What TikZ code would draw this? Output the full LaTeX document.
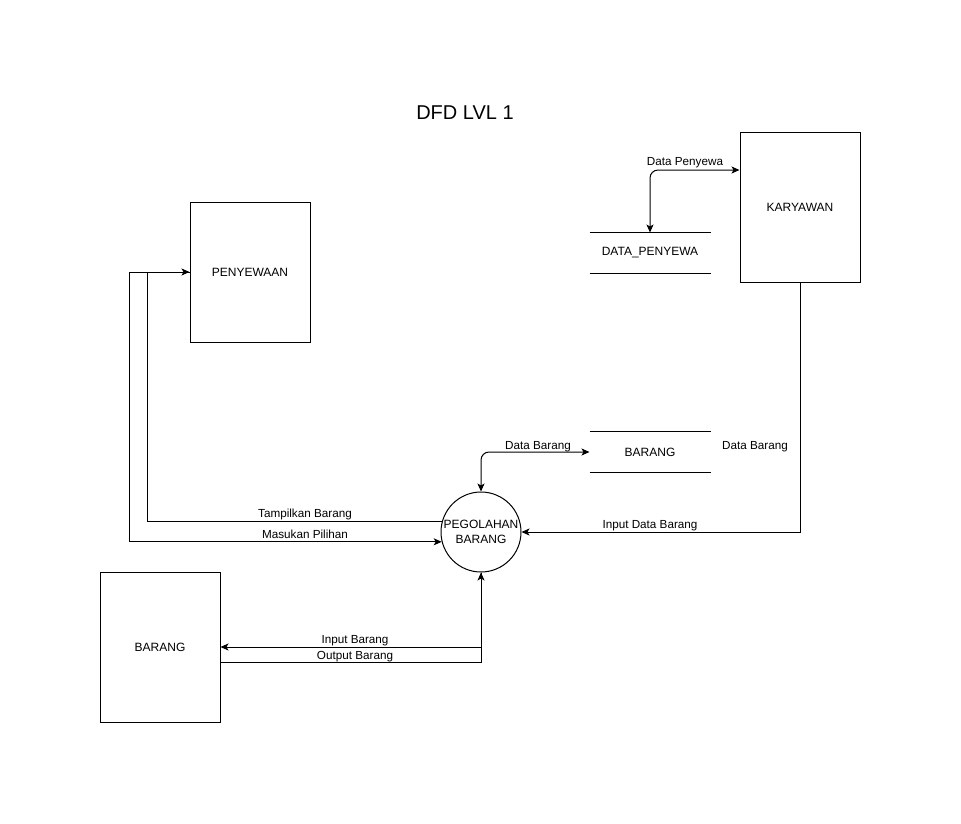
\documentclass[tikz,border=0pt]{standalone}
\usepackage{fontspec}
\setmainfont{Liberation Sans}
\usetikzlibrary{arrows.meta,positioning,calc}

\begin{document}
\begin{tikzpicture}[x=1pt, y=-1pt, line width=1pt,
    every node/.style={font=\fontsize{12}{15}\selectfont},
    entity/.style={draw, minimum width=120pt, minimum height=150pt, inner sep=0pt},
    store/.style={minimum width=120pt, minimum height=40pt, inner sep=0pt},
    proc/.style={draw, circle, minimum size=80pt, inner sep=0pt, align=center},
    flow/.style={-{Stealth[length=8pt,width=7pt,inset=2pt]}},
    flow2/.style={{Stealth[length=8pt,width=7pt,inset=2pt]}-{Stealth[length=8pt,width=7pt,inset=2pt]}, rounded corners=8pt},
    lbl/.style={font=\fontsize{11.7}{13}\selectfont, inner sep=1pt}]
    \useasboundingbox (0,0) rectangle (961,823);

    \node [font=\fontsize{20}{24}\selectfont] (title) at (465,113) {DFD LVL 1};

    % entities, stores and process
    \node [entity] (kar) at (800,207) {KARYAWAN};
    \node [entity, minimum height=140pt] (sewa) at (250,272) {PENYEWAAN};
    \node [entity] (brg) at (160,647) {BARANG};
    \node [store] (dpw) at (650,253) {DATA\_PENYEWA};
    \node [store] (sbrg) at (650,452) {BARANG};
    \node [proc] (olah) at (481,532) {PEGOLAHAN\\BARANG};
    \draw (dpw.north west) -- (dpw.north east) (dpw.south west) -- (dpw.south east);
    \draw (sbrg.north west) -- (sbrg.north east) (sbrg.south west) -- (sbrg.south east);

    % flows
    \draw [flow2] (dpw.north) |- ([yshift=37pt]kar.west);
    \node [lbl] (lpw) at (685,163) {Data Penyewa};
    \draw [flow2] (olah.north) |- (sbrg.west);
    \node [lbl] (lbr) at (538,447) {Data Barang};
    \node [lbl] (lbr2) at (755,447) {Data Barang};
    \draw [flow] (kar.south) |- (olah.east);
    \node [lbl] (lidb) at (650,526) {Input Data Barang};

    \draw [flow] (olah.165.5) -| ([xshift=-42pt]sewa.west) -- (sewa.west);
    \draw [flow] (sewa.west) -- ([xshift=-60pt]sewa.west) |- (olah.194.5);
    \node [lbl] (ltb) at (305,514) {Tampilkan Barang};
    \node [lbl] (lmp) at (305,534) {Masukan Pilihan};

    \draw [flow] (olah.south) |- (brg.east);
    \draw [flow] ([yshift=-15pt]brg.east) -| (olah.south);
    \node [lbl] (lib) at (355,641) {Input Barang};
    \node [lbl] (lob) at (355,657) {Output Barang};
\end{tikzpicture}
\end{document}
